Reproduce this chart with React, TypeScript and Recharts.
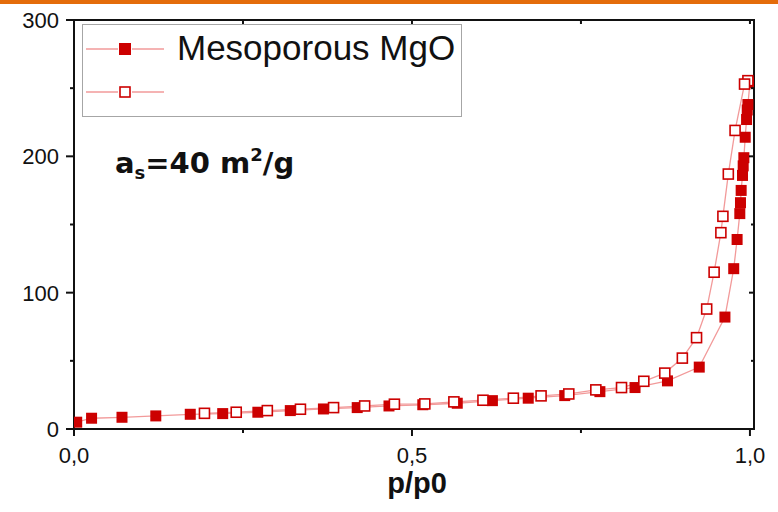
import React from "react";
import { ComposedChart, Line, ReferenceArea, XAxis, YAxis } from "recharts";

// N2 isotherm, adsorption branch (filled) and desorption branch (open)
const adsP = [
  0.004, 0.026, 0.071, 0.121, 0.172, 0.22, 0.272, 0.32, 0.369, 0.419, 0.466,
  0.516, 0.567, 0.619, 0.672, 0.726, 0.778, 0.83, 0.878, 0.925, 0.963, 0.976,
  0.981, 0.985, 0.986, 0.987, 0.989, 0.99, 0.991, 0.993, 0.995, 0.996, 0.997,
  1.0,
];
const adsV = [
  5, 7.9, 8.6, 9.6, 10.8, 11.3, 12.3, 13.5, 14.7, 15.7, 16.9, 17.8, 18.9, 20.8,
  22.6, 24.5, 27.4, 30.4, 35.3, 45.4, 82.1, 117.6, 139, 158, 166, 175, 186,
  193, 199, 214, 227, 234, 238, 254,
];
const desP = [
  0.997, 0.992, 0.978, 0.968, 0.96, 0.957, 0.947, 0.936, 0.921, 0.9, 0.874,
  0.843, 0.81, 0.772, 0.732, 0.691, 0.65, 0.605, 0.562, 0.519, 0.474, 0.43,
  0.384, 0.335, 0.286, 0.24, 0.193,
];
const desV = [
  255.5, 253, 219, 187, 156, 144, 115, 88, 67, 52, 41, 35, 30.4, 28.7, 25.7,
  24.3, 22.6, 21.1, 19.9, 18.4, 18.2, 16.9, 15.7, 14.5, 13.5, 12.3, 11.5,
];

const xTicks = [0, 0.25, 0.5, 0.75, 1];
const xTickLabels: Record<string, string> = { "0": "0,0", "0.5": "0,5", "1": "1,0" };
const yTicks = [0, 50, 100, 150, 200, 250, 300];
const yTickLabels = [0, 100, 200, 300];
const X_MAX = 1.006;
const Y_MAX = 300;

const adsorption = adsP.map((p, i) => ({ p, v: adsV[i] }));
const desorption = desP.map((p, i) => ({ p, v: desV[i] }));

const RED = "#cc0000";
const PINK = "#f29a9a";
const AXIS = "#111";
const FONT = "'Liberation Sans', Arial, sans-serif";

function FilledSquare(props: any) {
  const { cx, cy } = props;
  if (cx == null || cy == null) return null;
  return <rect x={cx - 5.5} y={cy - 5.5} width={11} height={11} fill={RED} />;
}

function OpenSquare(props: any) {
  const { cx, cy } = props;
  if (cx == null || cy == null) return null;
  return (
    <rect x={cx - 5} y={cy - 5} width={10} height={10} fill="#fff" stroke={RED} strokeWidth={1.6} />
  );
}

function BottomTick({ x, y, payload }: any) {
  const label = xTickLabels[String(payload.value)];
  return (
    <g>
      <line x1={x} x2={x} y1={y} y2={y + (label ? 7 : 4)} stroke={AXIS} strokeWidth={2} />
      {label && (
        <text x={x} y={y + 34} textAnchor="middle" fontSize={22} fontFamily={FONT} fill="#111">
          {label}
        </text>
      )}
    </g>
  );
}

function LeftTick({ x, y, payload }: any) {
  const major = yTickLabels.includes(payload.value);
  return (
    <g>
      <line x1={x} x2={x - (major ? 8 : 4)} y1={y} y2={y} stroke={AXIS} strokeWidth={2} />
      {major && (
        <text x={x - 15} y={y + 8} textAnchor="end" fontSize={22} fontFamily={FONT} fill="#111">
          {payload.value}
        </text>
      )}
    </g>
  );
}

function TopTick({ x, y }: any) {
  return <line x1={x} x2={x} y1={y} y2={y + 4} stroke={AXIS} strokeWidth={2} />;
}

function RightTick({ x, y, payload }: any) {
  const major = yTickLabels.includes(payload.value);
  return <line x1={x} x2={x - (major ? 5 : 3)} y1={y} y2={y} stroke={AXIS} strokeWidth={2} />;
}

function Overlay() {
  return (
    <svg width={778} height={512} style={{ position: "absolute", left: 0, top: 0, pointerEvents: "none" }}>
      <rect x={0} y={0} width={778} height={4} fill="#e46c0a" />
      {/* legend */}
      <rect x={82.5} y={24.5} width={379} height={92} fill="#fff" stroke="#a6a6a6" strokeWidth={1} />
      <line x1={86} x2={118} y1={49} y2={49} stroke={PINK} strokeWidth={1.5} />
      <line x1={132} x2={164} y1={49} y2={49} stroke={PINK} strokeWidth={1.5} />
      <rect x={119} y={43} width={12} height={12} fill={RED} />
      <line x1={86} x2={118} y1={92} y2={92} stroke={PINK} strokeWidth={1.5} />
      <line x1={132} x2={164} y1={92} y2={92} stroke={PINK} strokeWidth={1.5} />
      <rect x={120} y={87} width={10} height={10} fill="#fff" stroke={RED} strokeWidth={1.6} />
      <text x={177} y={60} fontSize={35} fontFamily={FONT} fill="#111">
        Mesoporous MgO
      </text>
      {/* specific surface area */}
      <text x={115} y={173} fontSize={29} fontWeight="bold" fontFamily="'DejaVu Sans', sans-serif" fill="#111">
        a
        <tspan fontSize={18} dy={6}>s</tspan>
        <tspan fontSize={29} dy={-6}>=40 m</tspan>
        <tspan fontSize={18} dy={-12}>2</tspan>
        <tspan fontSize={29} dy={12}>/g</tspan>
      </text>
      {/* x axis title */}
      <text x={417} y={493} textAnchor="middle" fontSize={29} fontWeight="bold" fontFamily={FONT} fill="#111">
        p/p0
      </text>
    </svg>
  );
}

export default function App() {
  return (
    <div style={{ position: "fixed", left: 0, top: 0, width: 778, height: 512, background: "#fff" }}>
      <ComposedChart width={778} height={512} margin={{ top: 20, right: 24, left: 0, bottom: 43 }}>
        <XAxis
          dataKey="p"
          type="number"
          domain={[0, X_MAX]}
          ticks={xTicks}
          interval={0}
          allowDataOverflow
          tick={<BottomTick />}
          tickLine={false}
          tickSize={0}
          tickMargin={0}
          height={40}
          stroke={AXIS}
          strokeWidth={2}
        />
        <XAxis
          xAxisId="top"
          orientation="top"
          dataKey="p"
          type="number"
          domain={[0, X_MAX]}
          ticks={xTicks.slice(1)}
          interval={0}
          allowDataOverflow
          mirror
          tick={<TopTick />}
          tickLine={false}
          tickSize={0}
          tickMargin={0}
          height={1}
          stroke={AXIS}
          strokeWidth={2}
        />
        <YAxis
          type="number"
          domain={[0, Y_MAX]}
          ticks={yTicks}
          interval={0}
          allowDataOverflow
          tick={<LeftTick />}
          tickLine={false}
          tickSize={0}
          tickMargin={0}
          width={74}
          stroke={AXIS}
          strokeWidth={2}
        />
        <YAxis
          yAxisId="right"
          orientation="right"
          type="number"
          domain={[0, Y_MAX]}
          ticks={yTicks.slice(1)}
          interval={0}
          allowDataOverflow
          mirror
          tick={<RightTick />}
          tickLine={false}
          tickSize={0}
          tickMargin={0}
          width={1}
          stroke={AXIS}
          strokeWidth={2}
        />
        {/* plot frame */}
        <ReferenceArea
          x1={0}
          x2={X_MAX}
          y1={0}
          y2={Y_MAX}
          fill="none"
          fillOpacity={0}
          stroke={AXIS}
          strokeWidth={2}
          ifOverflow="visible"
        />
        <Line
          data={adsorption}
          dataKey="v"
          type="linear"
          stroke={PINK}
          strokeWidth={1.3}
          dot={<FilledSquare />}
          activeDot={false}
          isAnimationActive={false}
        />
        <Line
          data={desorption}
          dataKey="v"
          type="linear"
          stroke={PINK}
          strokeWidth={1.3}
          dot={<OpenSquare />}
          activeDot={false}
          isAnimationActive={false}
        />
        {/* invisible series so the frame axes on top/right get drawn */}
        <Line
          xAxisId="top"
          yAxisId="right"
          data={adsorption}
          dataKey="v"
          stroke="none"
          dot={false}
          activeDot={false}
          isAnimationActive={false}
        />
      </ComposedChart>
      <Overlay />
    </div>
  );
}
